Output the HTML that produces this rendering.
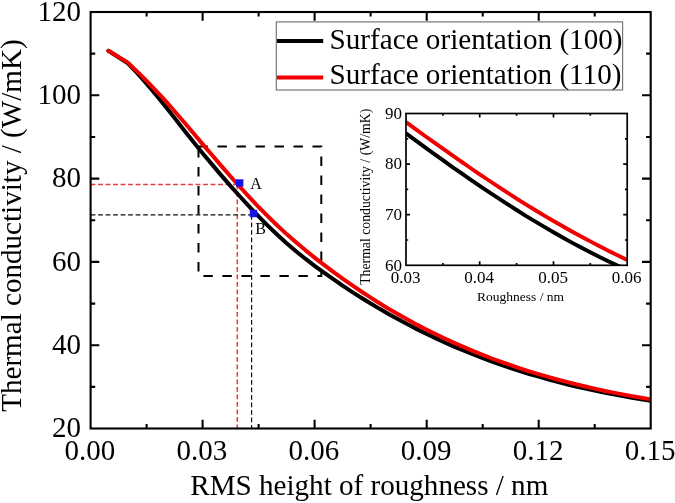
<!DOCTYPE html>
<html><head><meta charset="utf-8"><title>Thermal conductivity vs RMS height of roughness</title>
<style>html,body{margin:0;padding:0;background:#fff}svg{display:block}text{font-family:'Liberation Serif','Times New Roman',serif;fill:#000}</style></head><body>
<svg width="675" height="503" viewBox="0 0 675 503">
<rect width="675" height="503" fill="#fff"/>
<defs><clipPath id="cm"><rect x="90.6" y="12.0" width="560.1" height="416.5"/></clipPath><clipPath id="ci"><rect x="406.0" y="113.5" width="221.2" height="151.8"/></clipPath></defs>
<g fill="none" stroke-dasharray="4.8 2.7">
<path d="M90.6,184.4 H237.3" stroke="#ea3a3a" stroke-width="1.5"/>
<path d="M237.3,184.4 V428.5" stroke="#ea3a3a" stroke-width="1.5"/>
<path d="M90.6,214.9 H251.6" stroke="#111" stroke-width="1.2"/>
<path d="M251.6,214.9 V428.5" stroke="#111" stroke-width="1.2"/>
</g>
<path d="M198.5,146.4 H321.3 V276.1 H198.5 Z" fill="none" stroke="#000" stroke-width="2" stroke-dasharray="9.4 9.6"/>
<g clip-path="url(#cm)" fill="none" stroke-linejoin="round" stroke-linecap="round" stroke-width="4">
<path d="M108.4,50.8 L127.9,63.3 L137.3,73.1 L146.6,83.6 L155.9,94.8 L165.3,106.3 L174.6,118.1 L183.9,129.9 L193.3,141.7 L202.6,153.2 L212.0,164.4 L221.3,175.4 L230.6,186.1 L240.0,196.5 L249.3,206.6 L258.6,216.4 L268.0,225.8 L277.3,234.7 L286.6,243.2 L296.0,251.2 L305.3,258.7 L314.6,265.8 L324.0,272.6 L333.3,279.2 L342.6,285.6 L352.0,291.8 L361.3,297.7 L370.7,303.5 L380.0,309.1 L389.3,314.4 L398.7,319.6 L408.0,324.6 L417.3,329.4 L426.7,334.0 L436.0,338.4 L445.3,342.7 L454.7,346.8 L464.0,350.7 L473.3,354.5 L482.7,358.1 L492.0,361.6 L501.3,364.9 L510.7,368.1 L520.0,371.1 L529.3,374.0 L538.7,376.7 L548.0,379.4 L557.4,381.9 L566.7,384.2 L576.0,386.5 L585.4,388.6 L594.7,390.6 L604.0,392.6 L613.4,394.4 L622.7,396.1 L632.0,397.7 L641.4,399.2 L650.7,400.7" stroke="#000"/>
<path d="M108.4,50.8 L127.9,62.6 L137.3,71.6 L146.6,80.9 L155.9,90.6 L165.3,100.6 L174.6,111.2 L183.9,122.0 L193.3,133.0 L202.6,144.1 L212.0,155.0 L221.3,165.9 L230.6,176.5 L240.0,187.0 L249.3,197.1 L258.6,207.0 L268.0,216.4 L277.3,225.5 L286.6,234.1 L296.0,242.2 L305.3,250.1 L314.6,257.6 L324.0,264.9 L333.3,271.9 L342.6,278.7 L352.0,285.2 L361.3,291.5 L370.7,297.6 L380.0,303.5 L389.3,309.2 L398.7,314.6 L408.0,319.8 L417.3,324.9 L426.7,329.7 L436.0,334.3 L445.3,338.8 L454.7,343.1 L464.0,347.2 L473.3,351.1 L482.7,354.9 L492.0,358.5 L501.3,361.9 L510.7,365.2 L520.0,368.3 L529.3,371.3 L538.7,374.2 L548.0,376.9 L557.4,379.5 L566.7,381.9 L576.0,384.3 L585.4,386.5 L594.7,388.6 L604.0,390.7 L613.4,392.6 L622.7,394.4 L632.0,396.1 L641.4,397.8 L650.7,399.4" stroke="#f00000"/>
</g>
<rect x="236.0" y="179.3" width="7.4" height="7.4" fill="#1414e6"/>
<rect x="249.8" y="209.8" width="7.4" height="7.4" fill="#1414e6"/>
<text x="250.2" y="188.5" font-size="16">A</text>
<text x="255.2" y="234.3" font-size="16">B</text>
<g fill="none" stroke="#000" stroke-width="2.1">
<rect x="90.6" y="12.0" width="560.1" height="416.5"/>
<path d="M146.6,428.5 v-4.6 M146.6,12.0 v4.6 M202.6,428.5 v-8.7 M202.6,12.0 v8.7 M258.6,428.5 v-4.6 M258.6,12.0 v4.6 M314.6,428.5 v-8.7 M314.6,12.0 v8.7 M370.6,428.5 v-4.6 M370.6,12.0 v4.6 M426.7,428.5 v-8.7 M426.7,12.0 v8.7 M482.7,428.5 v-4.6 M482.7,12.0 v4.6 M538.7,428.5 v-8.7 M538.7,12.0 v8.7 M594.7,428.5 v-4.6 M594.7,12.0 v4.6 M90.6,386.9 h4.6 M650.7,386.9 h-4.6 M90.6,345.2 h8.7 M650.7,345.2 h-8.7 M90.6,303.6 h4.6 M650.7,303.6 h-4.6 M90.6,261.9 h8.7 M650.7,261.9 h-8.7 M90.6,220.2 h4.6 M650.7,220.2 h-4.6 M90.6,178.6 h8.7 M650.7,178.6 h-8.7 M90.6,137.0 h4.6 M650.7,137.0 h-4.6 M90.6,95.3 h8.7 M650.7,95.3 h-8.7 M90.6,53.6 h4.6 M650.7,53.6 h-4.6"/>
</g>
<g font-size="29" text-anchor="middle">
<text x="89.9" y="460">0.00</text>
<text x="201.9" y="460">0.03</text>
<text x="313.9" y="460">0.06</text>
<text x="426.0" y="460">0.09</text>
<text x="538.0" y="460">0.12</text>
<text x="650.0" y="460">0.15</text>
</g>
<g font-size="29" text-anchor="end">
<text x="81" y="437.1">20</text>
<text x="81" y="353.8">40</text>
<text x="81" y="270.5">60</text>
<text x="81" y="187.2">80</text>
<text x="81" y="103.9">100</text>
<text x="81" y="20.6">120</text>
</g>
<text x="369.3" y="494.6" font-size="29.1" text-anchor="middle">RMS height of roughness / nm</text>
<text transform="translate(20.7,225.6) rotate(-90)" font-size="29.1" text-anchor="middle">Thermal conductivity / (W/mK)</text>
<rect x="276.3" y="21.9" width="346.3" height="68.1" fill="#fff" stroke="#777" stroke-width="1.2"/>
<path d="M277,41.1 H323.2" stroke="#000" stroke-width="4" fill="none"/>
<path d="M277,77.6 H323.2" stroke="#f00000" stroke-width="4" fill="none"/>
<text x="329.6" y="48.8" font-size="29.15">Surface orientation (100)</text>
<text x="329.6" y="84.4" font-size="29.15">Surface orientation (110)</text>
<rect x="406.0" y="113.5" width="221.2" height="151.8" fill="#fff"/>
<g clip-path="url(#ci)" fill="none" stroke-linejoin="round" stroke-width="3.9">
<path d="M406.0,133.2 L415.2,140.1 L424.4,146.9 L433.7,153.6 L442.9,160.2 L452.1,166.8 L461.3,173.2 L470.5,179.6 L479.7,185.9 L489.0,192.1 L498.2,198.1 L507.4,204.1 L516.6,210.0 L525.8,215.8 L535.0,221.4 L544.3,226.9 L553.5,232.3 L562.7,237.5 L571.9,242.6 L581.1,247.5 L590.3,252.3 L599.6,256.9 L608.8,261.4 L618.0,265.7 L627.2,270.0" stroke="#000"/>
<path d="M406.0,122.1 L415.2,128.8 L424.4,135.5 L433.7,142.1 L442.9,148.7 L452.1,155.2 L461.3,161.6 L470.5,168.0 L479.7,174.3 L489.0,180.5 L498.2,186.6 L507.4,192.6 L516.6,198.6 L525.8,204.4 L535.0,210.0 L544.3,215.6 L553.5,221.0 L562.7,226.3 L571.9,231.5 L581.1,236.5 L590.3,241.4 L599.6,246.2 L608.8,250.9 L618.0,255.5 L627.2,260.1" stroke="#f00000"/>
</g>
<g fill="none" stroke="#000" stroke-width="1.7">
<rect x="406.0" y="113.5" width="221.2" height="151.8"/>
<path d="M442.9,265.3 v-2.2 M442.9,113.5 v2.2 M479.7,265.3 v-4.0 M479.7,113.5 v4.0 M516.6,265.3 v-2.2 M516.6,113.5 v2.2 M553.5,265.3 v-4.0 M553.5,113.5 v4.0 M590.3,265.3 v-2.2 M590.3,113.5 v2.2 M406.0,240.0 h2.2 M627.2,240.0 h-2.2 M406.0,214.7 h4.0 M627.2,214.7 h-4.0 M406.0,189.4 h2.2 M627.2,189.4 h-2.2 M406.0,164.1 h4.0 M627.2,164.1 h-4.0 M406.0,138.8 h2.2 M627.2,138.8 h-2.2"/>
</g>
<g font-size="17" text-anchor="middle">
<text x="405.5" y="283">0.03</text>
<text x="479.2" y="283">0.04</text>
<text x="553.0" y="283">0.05</text>
<text x="626.7" y="283">0.06</text>
</g>
<g font-size="17" text-anchor="end">
<text x="402" y="270.5">60</text>
<text x="402" y="219.9">70</text>
<text x="402" y="169.3">80</text>
<text x="402" y="118.7">90</text>
</g>
<text x="520.6" y="300.6" font-size="13.5" text-anchor="middle">Roughness / nm</text>
<text transform="translate(369.8,196.8) rotate(-90)" font-size="13.75" text-anchor="middle">Thermal conductivity / (W/mK)</text>
</svg></body></html>
